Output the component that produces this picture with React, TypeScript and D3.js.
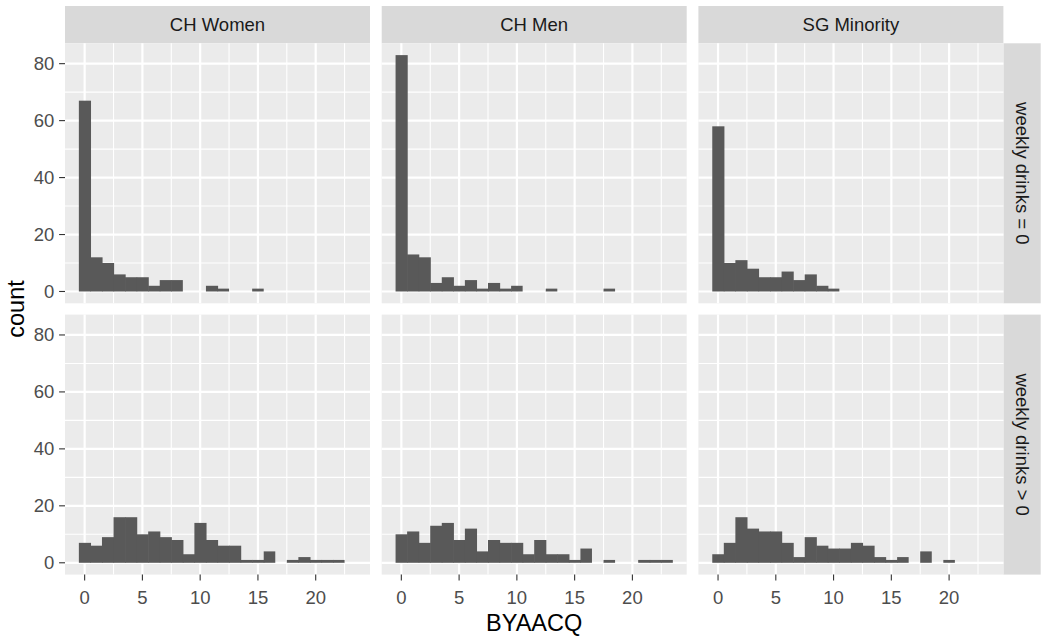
import { useEffect, useRef } from 'react';
import * as d3 from 'd3';

// facet labels
const groups = ['CH Women', 'CH Men', 'SG Minority'];
const drinkRows = ['weekly drinks = 0', 'weekly drinks > 0'];

// counts per BYAACQ score, bin width 1 starting at score 0
const womenNoDrinks = [67, 12, 10, 6, 5, 5, 2, 4, 4, 0, 0, 2, 1, 0, 0, 1];
const menNoDrinks = [83, 13, 12, 3, 5, 2, 4, 1, 3, 1, 2, 0, 0, 1, 0, 0, 0, 0, 1];
const minorityNoDrinks = [58, 10, 11, 8, 5, 5, 7, 4, 6, 2, 1];
const womenDrinks = [7, 6, 9, 16, 16, 10, 11, 9, 8, 3, 14, 8, 6, 6, 1, 1, 4, 0, 1, 2, 1, 1, 1];
const menDrinks = [10, 11, 7, 13, 14, 8, 12, 4, 8, 7, 7, 3, 8, 3, 3, 1, 5, 0, 1, 0, 0, 1, 1, 1];
const minorityDrinks = [3, 7, 16, 12, 11, 11, 7, 2, 9, 6, 5, 5, 7, 6, 2, 1, 2, 0, 4, 0, 1];

const xTicks = [0, 5, 10, 15, 20];
const xMinor = [2.5, 7.5, 12.5, 17.5, 22.5];
const yTicks = [0, 20, 40, 60, 80];
const yMinor = [10, 30, 50, 70];

const FONT = '"Liberation Sans", Arial, sans-serif';

const App = () => {
  const chartRef = useRef(null);

  useEffect(() => {
    d3.select(chartRef.current).selectAll('svg').remove();

    const width = 1050;
    const height = 640;
    const left = 65;
    const top = 43.3;
    const panelW = 305;
    const panelH = 260;
    const gapX = 11.7;
    const gapY = 11.3;
    const stripH = 37.3;

    const panels = [
      [womenNoDrinks, menNoDrinks, minorityNoDrinks],
      [womenDrinks, menDrinks, minorityDrinks],
    ];

    const allCounts = panels.flat(2);
    const maxX = d3.max(panels.flat(), d => d.length) as number; // upper bin edge - 0.5
    const xMin = -0.5, xMax = maxX - 0.5;
    const xPad = (xMax - xMin) * 0.05;
    const yMax = d3.max(allCounts) as number;
    const yPad = yMax * 0.05;

    const x = d3.scaleLinear()
      .domain([xMin - xPad, xMax + xPad])
      .range([0, panelW]);

    const y = d3.scaleLinear()
      .domain([-yPad, yMax + yPad])
      .range([panelH, 0]);

    const svg = d3.select(chartRef.current)
      .append('svg')
      .attr('width', width)
      .attr('height', height)
      .style('display', 'block')
      .style('font-family', FONT);

    svg.append('rect').attr('width', width).attr('height', height).attr('fill', 'white');

    const colX = (c: number) => left + c * (panelW + gapX);
    const rowY = (r: number) => top + r * (panelH + gapY);

    // top strips
    groups.forEach((g, c) => {
      const s = svg.append('g').attr('transform', `translate(${colX(c)},${top - stripH})`);
      s.append('rect').attr('width', panelW).attr('height', stripH).attr('fill', '#D9D9D9');
      s.append('text')
        .attr('x', panelW / 2)
        .attr('y', stripH / 2)
        .attr('text-anchor', 'middle')
        .attr('dominant-baseline', 'central')
        .attr('font-size', 18.5)
        .attr('fill', '#1A1A1A')
        .text(g);
    });

    // right strips
    drinkRows.forEach((lab, r) => {
      const sx = colX(2) + panelW;
      const s = svg.append('g').attr('transform', `translate(${sx},${rowY(r)})`);
      s.append('rect').attr('width', stripH).attr('height', panelH).attr('fill', '#D9D9D9');
      s.append('text')
        .attr('transform', `translate(${stripH / 2},${panelH / 2}) rotate(90)`)
        .attr('text-anchor', 'middle')
        .attr('dominant-baseline', 'central')
        .attr('font-size', 18.5)
        .attr('fill', '#1A1A1A')
        .text(lab);
    });

    panels.forEach((row, r) => {
      row.forEach((counts, c) => {
        const g = svg.append('g').attr('transform', `translate(${colX(c)},${rowY(r)})`);

        g.append('rect').attr('width', panelW).attr('height', panelH).attr('fill', '#EBEBEB');

        // minor grid
        g.selectAll('.vminor').data(xMinor).enter().append('line')
          .attr('x1', d => x(d)).attr('x2', d => x(d))
          .attr('y1', 0).attr('y2', panelH)
          .attr('stroke', 'white').attr('stroke-width', 1.1);
        g.selectAll('.hminor').data(yMinor).enter().append('line')
          .attr('x1', 0).attr('x2', panelW)
          .attr('y1', d => y(d)).attr('y2', d => y(d))
          .attr('stroke', 'white').attr('stroke-width', 1.1);

        // major grid
        g.selectAll('.vmajor').data(xTicks).enter().append('line')
          .attr('x1', d => x(d)).attr('x2', d => x(d))
          .attr('y1', 0).attr('y2', panelH)
          .attr('stroke', 'white').attr('stroke-width', 2.2);
        g.selectAll('.hmajor').data(yTicks).enter().append('line')
          .attr('x1', 0).attr('x2', panelW)
          .attr('y1', d => y(d)).attr('y2', d => y(d))
          .attr('stroke', 'white').attr('stroke-width', 2.2);

        // histogram bars, slightly overlapped so neighbours have no seam
        g.selectAll('.bar')
          .data(counts.map((v, i) => ({ bin: i, count: v })).filter(d => d.count > 0))
          .enter()
          .append('rect')
          .attr('x', d => x(d.bin - 0.5))
          .attr('width', d => x(d.bin + 0.5) - x(d.bin - 0.5) + (counts[d.bin + 1] > 0 ? 0.6 : 0))
          .attr('y', d => y(d.count))
          .attr('height', d => y(0) - y(d.count))
          .attr('fill', '#595959');

        // y axis on first column
        if (c === 0) {
          const ya = g.append('g');
          ya.selectAll('line').data(yTicks).enter().append('line')
            .attr('x1', -5.9).attr('x2', 0)
            .attr('y1', d => y(d)).attr('y2', d => y(d))
            .attr('stroke', '#333333').attr('stroke-width', 1.1);
          ya.selectAll('text').data(yTicks).enter().append('text')
            .attr('x', -10.8)
            .attr('y', d => y(d))
            .attr('text-anchor', 'end')
            .attr('dominant-baseline', 'central')
            .attr('font-size', 18.5)
            .attr('fill', '#4D4D4D')
            .text(d => d);
        }

        // x axis on bottom row
        if (r === 1) {
          const xa = g.append('g').attr('transform', `translate(0,${panelH})`);
          xa.selectAll('line').data(xTicks).enter().append('line')
            .attr('x1', d => x(d)).attr('x2', d => x(d))
            .attr('y1', 0).attr('y2', 5.9)
            .attr('stroke', '#333333').attr('stroke-width', 1.1);
          xa.selectAll('text').data(xTicks).enter().append('text')
            .attr('x', d => x(d))
            .attr('y', 29.5)
            .attr('text-anchor', 'middle')
            .attr('font-size', 18.5)
            .attr('fill', '#4D4D4D')
            .text(d => d);
        }
      });
    });

    // axis titles
    const panelsRight = colX(2) + panelW;
    svg.append('text')
      .attr('x', (left + panelsRight) / 2)
      .attr('y', 631)
      .attr('text-anchor', 'middle')
      .attr('font-size', 23.5)
      .attr('fill', 'black')
      .text('BYAACQ');

    svg.append('text')
      .attr('transform', `translate(23.5,${(top + rowY(1) + panelH) / 2}) rotate(-90)`)
      .attr('text-anchor', 'middle')
      .attr('font-size', 23.5)
      .attr('fill', 'black')
      .text('count');
  }, []);

  return (
    <div style={{ position: 'absolute', left: 0, top: 0 }}>
      <div ref={chartRef}></div>
    </div>
  );
};

export default App;
